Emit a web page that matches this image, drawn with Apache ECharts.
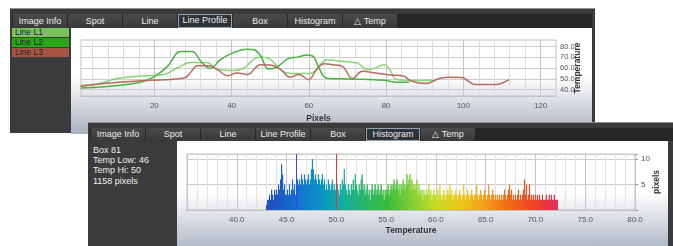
<!DOCTYPE html>
<html>
<head>
<meta charset="utf-8">
<script src="https://cdn.jsdelivr.net/npm/echarts@6/dist/echarts.min.js"></script>
<style>
html, body {
  margin: 0;
  padding: 0;
  width: 673px;
  height: 246px;
  overflow: hidden;
  background: #fff;
  font-family: "Liberation Sans Narrow", "Liberation Sans", sans-serif;
}
.panel {
  position: absolute;
  background: #3b3b3b;
  border-top: 1px solid #909090;
  box-sizing: border-box;
}
#panelTop { left: 10px; top: 8px; width: 585px; height: 125px; }
#panelBottom { left: 88px; top: 122px; width: 600px; height: 130px; }
.tabbar { position: absolute; left: 2px; right: 3px; height: 14px; background: #262626; }
.tab {
  position: absolute;
  top: 0;
  width: 54px;
  height: 14px;
  background: linear-gradient(#4a4a4a, #393939);
  color: #ececec;
  font-size: 9px;
  line-height: 14px;
  text-align: center;
  box-sizing: border-box;
}
.tab.sel { background: #2d3338; border: 1px solid #8ea5b5; line-height: 12px; }
.plotbg {
  position: absolute;
  background: linear-gradient(to bottom, #ffffff 0%, #ffffff 46%, #a9b1c1 100%);
}
.legend-item {
  position: absolute;
  left: 2px;
  width: 57px;
  height: 9px;
  font-size: 8.5px;
  line-height: 9px;
  color: #1e1e1e;
  padding-left: 3px;
  box-sizing: border-box;
}
.info { position: absolute; left: 5px; color: #eeeeee; font-size: 9px; line-height: 10px; }
.chart { position: absolute; left: 0; top: 0; }
</style>
</head>
<body>
<div id="panelTop" class="panel">
  <div class="tabbar" id="tabsTop" style="top:5px"></div>
  <div class="legend-item" style="top:19px;background:#79c35d">Line L1</div>
  <div class="legend-item" style="top:29px;background:#27a816">Line L2</div>
  <div class="legend-item" style="top:39px;background:#a85444">Line L3</div>
  <div class="plotbg" style="left:61px;top:19px;width:521px;height:106px">
    <div id="profileChart" class="chart" style="width:521px;height:106px"></div>
  </div>
</div>
<div id="panelBottom" class="panel">
  <div class="tabbar" id="tabsBottom" style="top:5px;height:13px"></div>
  <div class="info" style="top:22px">Box 81</div>
  <div class="info" style="top:32px">Temp Low: 46</div>
  <div class="info" style="top:42px">Temp Hi: 50</div>
  <div class="info" style="top:53px">1158 pixels</div>
  <div class="plotbg" style="left:89px;top:18px;width:491px;height:112px">
    <div id="histChart" class="chart" style="width:491px;height:106px"></div>
  </div>
  <div style="position:absolute;left:580px;top:18px;width:20px;height:112px;background:#3b3b3b"></div>
</div>

<script>
// 选项卡名称
const tabNames = ["Image Info", "Spot", "Line", "Line Profile", "Box", "Histogram", "\u25B3 Temp"];

// 线剖面数据 (像素, 温度)
const l1Pixels = [0.9, 5.2, 10.4, 15.6, 22.5, 25.9, 29.4, 33.7, 36.3, 40.6, 43.2, 45.8, 47.5, 50.1, 52.7, 55.3, 59.6, 61.3, 63.0, 64.7, 68.2, 72.5, 75.1, 77.2, 79.4, 80.7, 82.8, 88.0, 92.7];
const l1Temps  = [43.7, 45.2, 50.2, 52.3, 53.9, 60.0, 65.2, 65.2, 58.5, 57.6, 60.0, 68.3, 70.1, 67.7, 58.5, 54.8, 54.8, 56.5, 63.5, 67.7, 66.2, 64.6, 58.5, 60.0, 63.1, 60.0, 49.2, 48.3, 48.3];

const l2Pixels = [0.9, 8.7, 16.4, 19.9, 23.4, 26.8, 29.8, 32.0, 34.5, 37.1, 40.6, 44.0, 45.8, 47.5, 49.6, 51.8, 54.4, 57.0, 59.6, 61.3, 62.6, 64.7, 70.8, 79.4, 82.8, 85.9];
const l2Temps  = [41.5, 43.1, 46.8, 51.7, 61.5, 75.4, 75.4, 66.2, 59.7, 67.7, 74.5, 77.5, 77.0, 71.4, 59.0, 60.9, 68.3, 70.1, 72.0, 70.1, 60.0, 50.5, 49.8, 48.6, 46.8, 46.8];

const l3Pixels = [0.9, 8.7, 17.3, 27.7, 29.4, 31.1, 34.1, 36.3, 38.9, 41.5, 44.0, 47.5, 50.1, 52.7, 55.2, 57.4, 60.0, 61.8, 64.0, 66.1, 68.7, 71.3, 73.9, 77.3, 81.3, 84.6, 86.5, 90.3, 93.7, 96.6, 99.5, 103.2, 108.4, 111.8];
const l3Temps  = [43.1, 46.1, 48.3, 50.7, 56.0, 62.2, 62.2, 58.5, 52.9, 55.3, 53.9, 63.1, 62.7, 58.5, 51.4, 53.9, 49.2, 57.5, 64.0, 63.1, 61.5, 50.2, 56.9, 55.3, 53.5, 52.3, 48.0, 45.6, 50.2, 51.5, 51.2, 44.6, 44.6, 49.2];

// 直方图: 起始温度, 分箱宽度, 每箱像素数
const histStart = 43.0;
const histBin = 0.1;
const histCounts = [
  1, 2, 2, 3, 2, 4, 3, 2, 4, 3,
  4, 3, 5, 4, 6, 9, 7, 4, 5, 3,
  3, 4, 3, 5, 3, 4, 6, 4, 5, 3,
  5, 6, 5, 6, 5, 7, 6, 5, 7, 6,
  5, 6, 7, 5, 6, 8, 10, 8, 6, 7,
  6, 5, 7, 6, 5, 6, 7, 5, 6, 4,
  5, 4, 6, 5, 4, 5, 6, 4, 5, 4,
  4, 5, 4, 3, 5, 4, 6, 5, 8, 5,
  4, 3, 5, 4, 3, 5, 4, 6, 4, 7,
  5, 4, 3, 5, 4, 6, 7, 4, 5, 3,
  4, 5, 3, 4, 2, 4, 5, 3, 4, 5,
  3, 4, 5, 3, 4, 5, 3, 4, 2, 4,
  3, 4, 5, 3, 4, 5, 4, 5, 6, 4,
  5, 6, 4, 5, 3, 5, 4, 6, 5, 4,
  5, 7, 5, 6, 7, 4, 6, 5, 4, 5,
  4, 6, 3, 5, 4, 3, 4, 2, 4, 3,
  3, 4, 3, 5, 3, 4, 2, 3, 4, 3,
  3, 2, 4, 3, 5, 3, 2, 3, 4, 3,
  2, 3, 4, 3, 5, 3, 4, 2, 3, 3,
  4, 3, 2, 3, 4, 3, 2, 3, 5, 3,
  2, 3, 4, 3, 2, 3, 4, 3, 2, 3,
  3, 5, 3, 2, 3, 4, 3, 2, 3, 4,
  3, 2, 3, 5, 3, 2, 3, 4, 3, 2,
  3, 2, 3, 2, 3, 2, 3, 2, 3, 4,
  3, 2, 3, 4, 5, 3, 4, 2, 3, 2,
  3, 2, 3, 4, 2, 3, 2, 3, 4, 6,
  3, 5, 2, 3, 5, 2, 3, 2, 3, 2,
  3, 2, 3, 2, 3, 2, 2, 3, 2, 2,
  2, 3, 2, 2, 3, 2, 3, 2, 2, 3,
  2, 2, 2
];
const tempLow = 46;
const tempHi = 50;

// 轴刻度标签
const profileXLabels = [20, 40, 60, 80, 100, 120];
const profileYLabels = [40, 50, 60, 70, 80];
const histXLabels = [40, 45, 50, 55, 60, 65, 70, 75, 80];
const histYLabels = [5, 10];

// 生成选项卡
const buildTabs = (id, selected) => {
  const bar = document.getElementById(id);
  tabNames.forEach((name, i) => {
    const t = document.createElement("div");
    t.className = "tab" + (name === selected ? " sel" : "");
    t.style.left = 1 + i * 55 + "px";
    t.style.height = bar.style.height || "14px";
    t.style.lineHeight = name === selected ? "11px" : bar.style.height || "14px";
    t.textContent = name;
    bar.appendChild(t);
  });
};
buildTabs("tabsTop", "Line Profile");
buildTabs("tabsBottom", "Histogram");

const zip = (xs, ys) => xs.map((x, i) => [x, ys[i]]);
const clear = "rgba(0,0,0,0)";
const labelStyle = { fontSize: 8, color: "#555", fontFamily: "Liberation Sans" };
const nameStyle = { fontSize: 8.5, fontWeight: "bold", color: "#333", fontFamily: "Liberation Sans" };

// 线剖面图网格线颜色 (刻度从 1 开始, 每 4 像素一条)
const profileXGrid = [];
for (let i = 0; i < 20; i++) {
  const v = i + 1;
  profileXGrid.push(v % 20 === 0 ? "#c4c4c4" : v % 4 === 0 ? "#dddddd" : clear);
}

const profileChart = echarts.init(document.getElementById("profileChart"));
profileChart.setOption({
  animation: false,
  grid: {
    left: 10, top: 12, width: 475, height: 56,
    show: true, borderColor: "#c2c2c2",
    containLabel: false, outerBoundsMode: "none",
  },
  xAxis: {
    type: "value",
    min: 1,
    max: 124,
    interval: 1,
    name: "Pixels",
    nameLocation: "middle",
    nameGap: 18,
    nameMoveOverlap: false,
    nameTextStyle: nameStyle,
    axisLine: { lineStyle: { color: "#c2c2c2" } },
    axisTick: { show: false },
    axisLabel: {
      ...labelStyle,
      margin: 6,
      formatter: (v) => (profileXLabels.includes(v) ? String(v) : ""),
    },
    splitLine: { lineStyle: { color: profileXGrid, width: 1 } },
  },
  yAxis: {
    type: "value",
    position: "right",
    min: 34,
    max: 86,
    interval: 2,
    name: "Temperature",
    nameLocation: "middle",
    nameRotate: 90,
    nameGap: 17.5,
    nameMoveOverlap: false,
    nameTextStyle: nameStyle,
    axisLine: { show: false },
    axisTick: { show: false },
    axisLabel: {
      ...labelStyle,
      fontSize: 7.5,
      margin: 4,
      formatter: (v) => (profileYLabels.includes(v) ? v.toFixed(1) : ""),
    },
    splitLine: { lineStyle: { color: [clear, clear, clear, "#cccccc", clear] } },
  },
  series: [
    { name: "Line L1", data: zip(l1Pixels, l1Temps), color: "#8ad479" },
    { name: "Line L2", data: zip(l2Pixels, l2Temps), color: "#48b440" },
    { name: "Line L3", data: zip(l3Pixels, l3Temps), color: "#b86c5e" },
  ].map((s) => ({
    type: "line",
    name: s.name,
    data: s.data,
    smooth: 0.4,
    showSymbol: false,
    lineStyle: { width: 1.5, color: s.color },
  })),
});

// 直方图
const histData = histCounts.map((c, i) => [+(histStart + i * histBin).toFixed(1), c]);

const histChart = echarts.init(document.getElementById("histChart"));
histChart.setOption({
  animation: false,
  grid: {
    left: 10, top: 13, width: 448, height: 56,
    show: true, borderColor: "#c2c2c2",
    containLabel: false, outerBoundsMode: "none",
  },
  visualMap: {
    show: false,
    type: "continuous",
    dimension: 0,
    seriesIndex: 0,
    min: 43,
    max: 72.3,
    inRange: {
      color: ["#1f49be", "#1768cc", "#0e8ccc", "#05a6a4", "#0cb05a", "#1eb41c", "#6cc812", "#c8d806", "#ecc200", "#f29810", "#f06a18", "#ee4426", "#e22658"],
    },
  },
  xAxis: {
    type: "value",
    min: 35,
    max: 80,
    interval: 1,
    name: "Temperature",
    nameLocation: "middle",
    nameGap: 16,
    nameMoveOverlap: false,
    nameTextStyle: nameStyle,
    axisLine: { lineStyle: { color: "#c2c2c2" } },
    axisTick: { show: false },
    axisLabel: {
      ...labelStyle,
      margin: 6,
      formatter: (v) => (histXLabels.includes(v) ? v.toFixed(1) : ""),
    },
    splitLine: { lineStyle: { color: ["#c6c6c6", "#e2e2e2", "#e2e2e2", "#e2e2e2", "#e2e2e2"] } },
  },
  yAxis: {
    type: "value",
    position: "right",
    min: 0,
    max: 11,
    interval: 5,
    name: "pixels",
    nameLocation: "middle",
    nameRotate: 90,
    nameGap: 17,
    nameMoveOverlap: false,
    nameTextStyle: nameStyle,
    axisLine: { show: false },
    axisTick: { show: true, length: 3, lineStyle: { color: "#999" } },
    axisLabel: {
      ...labelStyle,
      margin: 6,
      formatter: (v) => (histYLabels.includes(v) ? String(v) : ""),
    },
    splitLine: { lineStyle: { color: "#cccccc" } },
  },
  series: [
    {
      type: "bar",
      data: histData,
      barWidth: 1.2,
    },
    {
      // 低温/高温标记线
      type: "line",
      data: [],
      markLine: {
        silent: true,
        symbol: ["none", "none"],
        label: { show: false },
        data: [
          { xAxis: tempLow, lineStyle: { color: "#3f3fff", width: 1, type: "solid" } },
          { xAxis: tempHi, lineStyle: { color: "#ff2a2a", width: 1, type: "solid" } },
        ],
      },
    },
  ],
});
</script>
</body>
</html>
